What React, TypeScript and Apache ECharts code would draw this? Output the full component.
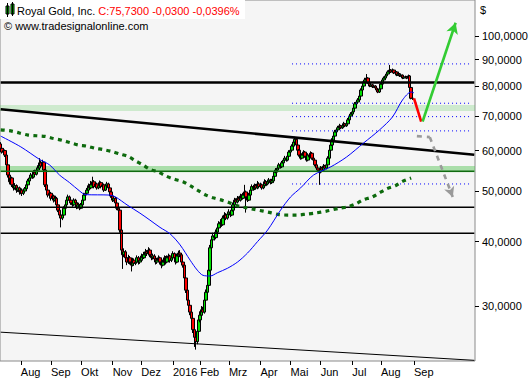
import React, { useEffect, useRef } from 'react';
import * as echarts from 'echarts';

// ---- data ----
const START_DATE = '2015-07-14';
const SLOT_COUNT = 331;
const LAST_LABELLED_SLOT = 300;
const HOLIDAYS = ['2015-09-07', '2015-11-26', '2015-12-25', '2016-01-01', '2016-01-18', '2016-02-15', '2016-03-25', '2016-05-30', '2016-07-04', '2016-09-05', '2016-11-24'];
const MONTH_LABELS = ['', 'Feb', 'Mrz', 'Apr', 'Mai', 'Jun', 'Jul', 'Aug', 'Sep', 'Okt', 'Nov', 'Dez'];

// [open, close, low, high]
const CANDLES: number[][] = [
  [61.8,60.6,60.2,62.3],[60.6,59.6,59.2,61.0],[59.6,60.0,59.0,60.6],[60.0,58.8,58.3,60.3],[58.8,56.3,55.8,59.0],
  [56.3,53.8,53.2,56.6],[53.8,52.2,51.6,54.2],[52.2,53.1,51.9,53.8],[53.1,51.5,51.0,53.4],[51.5,50.8,50.2,52.0],
  [50.8,51.3,50.4,51.9],[51.3,50.3,49.7,51.6],[50.3,50.8,49.9,51.3],[50.8,49.9,49.3,51.1],[49.9,50.3,49.4,50.8],
  [50.3,49.6,49.0,50.7],[49.6,50.1,49.2,50.6],[50.1,50.6,49.8,51.0],[50.6,51.5,50.3,51.9],[51.5,52.4,51.2,52.9],
  [52.4,53.1,52.0,53.6],[53.1,53.8,52.8,54.3],[53.8,53.3,52.9,54.4],[53.3,54.5,53.0,55.0],[54.5,54.0,53.6,55.1],
  [54.0,55.0,53.7,55.6],[55.0,55.5,54.6,56.2],[55.5,56.8,55.2,58.0],[56.8,56.0,55.6,57.4],[56.0,57.0,55.5,57.6],
  [57.0,55.0,54.6,57.2],[55.0,51.5,51.0,55.3],[51.5,50.3,49.8,51.9],[50.3,49.2,48.7,50.6],[49.2,49.6,48.8,50.2],
  [49.6,48.5,48.0,49.9],[48.5,49.0,48.2,49.5],[49.0,48.1,47.6,49.3],[48.1,48.5,47.8,49.0],[48.5,47.1,46.7,48.8],
  [47.1,46.0,45.6,47.4],[46.0,45.0,44.6,46.3],[45.0,44.4,42.6,45.3],[44.4,45.0,44.0,45.5],[45.0,46.4,44.8,46.8],
  [46.4,47.1,46.0,47.6],[47.1,48.1,46.8,48.6],[48.1,48.8,47.8,49.3],[48.8,48.1,47.7,49.1],[48.1,47.5,47.1,48.4],
  [47.5,47.1,46.7,47.8],[47.1,48.1,46.9,48.5],[48.1,47.5,47.1,48.4],[47.5,46.6,46.2,47.8],[46.6,47.1,46.3,47.6],
  [47.1,46.4,46.0,47.3],[46.4,47.1,46.2,47.5],[47.1,48.1,46.9,48.5],[48.1,49.2,47.9,49.7],[49.2,49.6,48.9,50.1],
  [49.6,50.3,49.3,50.8],[50.3,51.3,50.0,51.8],[51.3,50.8,50.4,51.7],[50.8,51.5,50.5,52.4],[51.5,52.2,51.2,53.4],
  [52.2,51.1,50.7,52.6],[51.1,51.7,50.8,52.2],[51.7,50.8,50.4,52.0],[50.8,51.3,50.5,51.8],[51.3,52.0,51.0,52.5],
  [52.0,51.1,50.7,52.3],[51.1,51.5,50.8,52.0],[51.5,50.3,49.9,51.8],[50.3,51.3,50.1,51.7],[51.3,51.7,51.0,52.2],
  [51.7,50.8,50.4,52.0],[50.8,49.9,49.5,51.1],[49.9,49.0,48.6,50.2],[49.0,48.1,47.7,49.3],[48.1,48.5,47.8,49.0],
  [48.5,47.5,47.1,48.8],[47.5,46.4,46.0,47.8],[46.4,46.0,45.5,46.8],[46.0,42.1,41.6,46.3],[42.1,38.5,37.9,42.4],
  [38.5,37.7,35.4,38.9],[37.7,38.2,37.3,38.8],[38.2,37.2,36.7,38.5],[37.2,36.5,36.0,37.6],[36.5,37.2,36.2,37.7],
  [37.2,36.5,36.1,37.5],[36.5,36.0,35.0,36.8],[36.0,36.8,35.8,37.2],[36.8,36.3,35.9,37.1],[36.3,36.5,36.0,37.0],
  [36.5,37.2,36.3,37.6],[37.2,36.5,36.1,37.5],[36.5,36.8,36.2,37.2],[36.8,37.5,36.6,37.9],[37.5,37.2,36.8,37.8],
  [37.2,37.7,37.0,38.2],[37.7,38.2,37.4,38.7],[38.2,37.9,37.5,38.5],[37.9,38.5,37.6,39.0],[38.5,37.7,37.3,38.8],
  [37.7,37.2,36.8,38.0],[37.2,37.5,36.9,37.9],[37.5,37.0,36.6,37.8],[37.0,36.5,36.1,37.3],[36.5,36.8,36.2,37.2],
  [36.8,37.2,36.5,37.6],[37.2,36.5,36.1,37.4],[36.5,36.0,35.5,36.8],[36.0,36.5,35.8,36.9],[36.5,37.2,36.3,37.6],
  [37.2,36.5,36.1,37.5],[36.5,37.2,36.3,37.6],[37.2,37.5,36.9,37.9],[37.5,36.8,36.4,37.7],[36.8,37.2,36.5,37.6],
  [37.2,37.9,37.0,38.3],[37.9,37.2,36.8,38.1],[37.2,36.5,36.1,37.5],[36.5,37.5,36.3,37.9],[37.5,38.0,37.2,38.4],
  [38.0,37.7,37.3,38.5],[37.7,36.5,36.1,37.9],[36.5,36.0,35.6,36.8],[36.0,34.0,33.6,36.2],[34.0,32.2,31.8,34.3],
  [32.2,30.8,30.4,32.5],[30.8,30.1,29.7,31.2],[30.1,29.2,28.8,30.5],[29.2,28.4,28.0,29.6],[28.4,27.0,26.6,28.7],
  [27.0,26.1,25.0,27.4],[26.1,25.6,24.7,26.6],[25.6,26.8,25.3,27.2],[26.8,28.2,26.5,28.6],[28.2,28.8,27.9,29.3],
  [28.8,29.5,28.5,30.0],[29.5,29.2,28.8,29.9],[29.2,30.8,29.0,31.2],[30.8,31.9,30.5,32.3],[31.9,32.9,31.6,33.4],
  [32.9,35.2,32.7,35.6],[35.2,38.9,35.0,39.4],[38.9,40.3,38.6,40.9],[40.3,41.0,39.9,41.6],[41.0,40.7,40.2,41.5],
  [40.7,41.7,40.4,42.2],[41.7,42.5,41.4,43.0],[42.5,43.3,42.2,43.8],[43.3,43.6,42.9,44.2],[43.6,43.1,42.7,44.0],
  [43.1,44.4,42.9,44.9],[44.4,45.0,44.1,45.6],[45.0,44.4,44.0,45.4],[44.4,45.2,44.1,45.7],[45.2,45.6,44.9,46.2],
  [45.6,45.0,44.6,45.9],[45.0,46.0,44.8,46.5],[46.0,47.1,45.7,47.6],[47.1,48.1,46.8,48.6],[48.1,47.7,47.3,48.5],
  [47.7,48.5,47.4,49.0],[48.5,48.1,47.7,48.9],[48.1,49.0,47.8,49.5],[49.0,48.5,48.1,49.4],[48.5,49.2,48.2,49.7],
  [49.2,49.9,48.9,51.5],[49.9,48.8,45.5,50.2],[48.8,48.1,47.7,49.1],[48.1,49.2,47.9,49.7],[49.2,50.3,48.9,50.8],
  [50.3,51.1,50.0,51.6],[51.1,50.6,50.2,51.5],[50.6,51.3,50.3,51.8],[51.3,50.8,50.4,51.7],[50.8,51.7,50.5,52.4],
  [51.7,51.1,50.7,52.1],[51.1,51.5,50.8,52.0],[51.5,50.8,50.4,51.8],[50.8,51.3,50.5,51.7],[51.3,52.2,51.0,52.8],
  [52.2,51.7,51.3,52.6],[51.7,52.2,51.4,52.7],[52.2,52.6,51.9,53.1],[52.6,52.0,51.6,52.9],[52.0,52.4,51.7,52.9],
  [52.4,53.5,52.1,54.0],[53.5,54.5,53.2,55.0],[54.5,55.0,54.2,55.5],[55.0,55.5,54.7,56.0],[55.5,56.3,55.2,56.8],
  [56.3,55.8,55.4,56.7],[55.8,56.8,55.5,57.3],[56.8,57.5,56.5,58.0],[57.5,58.0,57.2,58.6],[58.0,57.5,57.1,58.4],
  [57.5,58.5,57.2,59.0],[58.5,59.6,58.2,60.1],[59.6,60.1,59.3,60.7],[60.1,61.2,59.8,61.7],[61.2,62.3,60.9,62.9],
  [62.3,63.1,61.9,63.8],[63.1,61.5,61.1,63.4],[61.5,60.1,59.7,61.8],[60.1,58.8,58.4,60.4],[58.8,58.0,57.6,59.1],
  [58.0,58.8,57.7,59.3],[58.8,59.6,58.5,60.1],[59.6,58.5,58.1,59.9],[58.5,57.5,57.1,58.8],[57.5,58.8,57.2,59.3],
  [58.8,58.3,57.9,59.2],[58.3,59.3,58.0,59.8],[59.3,58.0,57.6,59.6],[58.0,57.5,57.1,58.3],[57.5,56.3,55.9,57.8],
  [56.3,55.5,55.1,56.6],[55.5,55.0,54.6,55.8],[55.0,54.5,51.5,55.3],[54.5,55.5,54.2,56.0],[55.5,55.0,54.6,55.8],
  [55.0,56.0,54.7,56.5],[56.0,55.5,55.1,56.3],[55.5,56.3,55.2,56.8],[56.3,58.0,56.0,58.5],[58.0,60.1,57.7,60.6],
  [60.1,61.5,59.8,62.0],[61.5,62.9,61.2,63.4],[62.9,64.0,62.6,64.6],[64.0,65.2,63.7,65.8],[65.2,65.8,64.9,66.4],
  [65.8,66.4,65.5,67.0],[66.4,67.0,66.1,67.6],[67.0,66.4,66.0,67.3],[66.4,67.0,66.1,67.6],[67.0,67.6,66.7,68.2],
  [67.6,67.0,66.6,67.9],[67.0,67.6,66.7,68.2],[67.6,68.8,67.3,69.4],[68.8,70.0,68.5,70.6],[70.0,70.6,69.7,71.2],
  [70.6,71.3,70.3,71.9],[71.3,72.5,71.0,73.1],[72.5,73.9,72.2,74.5],[73.9,74.5,73.6,75.1],[74.5,75.2,74.2,75.8],
  [75.2,76.5,74.9,77.1],[76.5,78.6,76.2,79.2],[78.6,80.0,78.3,80.7],[80.0,81.5,79.7,82.2],[81.5,82.2,81.2,83.0],
  [82.2,82.9,81.9,84.4],[82.9,81.1,80.7,83.2],[81.1,80.0,79.6,81.4],[80.0,80.4,79.7,80.9],[80.4,79.7,79.3,80.7],
  [79.7,80.0,79.4,80.5],[80.0,79.3,78.9,80.3],[79.3,78.6,78.2,79.6],[78.6,77.9,77.5,78.9],[77.9,79.0,77.6,79.5],
  [79.0,80.7,78.7,81.3],[80.7,82.2,80.4,82.8],[82.2,82.9,81.9,83.5],[82.9,83.7,82.6,84.3],[83.7,84.4,83.4,85.0],
  [84.4,85.2,84.1,85.8],[85.2,85.9,84.9,87.9],[85.9,85.2,84.8,86.3],[85.2,85.9,84.9,86.5],[85.9,84.8,84.4,86.1],
  [84.8,85.2,84.5,85.8],[85.2,84.0,83.6,85.5],[84.0,84.4,83.7,85.0],[84.4,83.7,83.3,84.8],[83.7,84.0,83.4,84.6],
  [84.0,82.9,82.5,84.2],[82.9,83.3,82.6,83.8],[83.3,83.3,82.9,83.8],[83.3,82.9,82.5,83.7],[82.9,83.7,82.6,84.2],
  [83.7,79.5,79.1,84.0],[79.5,75.76,75.4,79.8],[75.76,75.73,75.2,76.6],
];

// moving averages: [slot index, price]
const MA_FAST: number[][] = [
  [0,64.0],[14,61.0],[27,57.7],[34,56.3],[41,53.8],[48,52.0],[55,50.1],[59,49.3],[76,49.2],[80,48.8],
  [88,47.1],[97,45.4],[104,44.0],[111,42.6],[118,41.4],[125,39.4],[132,36.8],[137,35.2],[141,34.4],[146,34.3],
  [151,34.8],[158,35.5],[165,36.5],[172,38.0],[179,40.0],[186,42.1],[195,46.0],[202,48.8],[209,50.8],[218,53.8],
  [230,55.8],[241,58.3],[253,62.1],[264,65.8],[273,69.7],[280,75.2],[286,77.9],[288,77.6],
];
const MA_SLOW: number[][] = [
  [0,65.8],[7,65.5],[13,64.9],[19,64.3],[25,64.1],[31,63.9],[36,63.4],[43,62.8],[48,62.2],[54,61.5],
  [60,61.2],[66,60.6],[71,60.3],[78,59.7],[83,59.1],[89,58.4],[94,57.3],[99,56.3],[104,55.2],[110,54.5],
  [115,53.6],[121,52.8],[127,52.2],[132,51.3],[137,50.3],[143,49.2],[148,48.6],[154,48.1],[159,47.6],[165,46.9],
  [171,46.5],[176,46.2],[183,45.8],[188,45.5],[194,45.1],[200,45.0],[206,45.0],[213,45.2],[219,45.4],[227,45.8],
  [236,46.4],[242,46.7],[248,47.4],[252,48.1],[259,48.8],[264,49.7],[269,50.6],[275,51.3],[280,52.3],[286,53.1],
];

const Y_TICKS = [30, 40, 50, 60, 70, 80, 90, 100];
const Y_MIN = 23.48;
const Y_MAX = 117.41;

const RESISTANCE = 81.3;
const SUPPORT_1 = 46.6;
const SUPPORT_2 = 41.5;
const BAND_UPPER = [71.6, 73.5];
const BAND_LOWER = [54.5, 56.0];
const BAND_LOWER_LINE = 54.7;
const TREND_UPPER = [[0, 72.1], [330, 58.9]];
const TREND_LOWER = [[0, 26.7], [330, 23.55]];
const FIB_LEVELS = [88.3, 74.1, 69.8, 65.5, 51.7];
const FIB_RANGE = [203, 327];
const RED_PATH = [[288, 75.7], [293, 68.3]];
const GREEN_ARROW = [[293.5, 68.3], [317, 106.1]];
const GREY_PATH = [[290, 64.0], [299, 63.7]];
const GREY_ARROW = [[299, 63.7], [315, 48.8]];

function buildDates(): string[] {
  const out: string[] = [];
  const d = new Date(START_DATE + 'T00:00:00Z');
  while (out.length < SLOT_COUNT) {
    const wd = d.getUTCDay();
    const s = d.toISOString().slice(0, 10);
    if (wd !== 0 && wd !== 6 && HOLIDAYS.indexOf(s) < 0) out.push(s);
    d.setUTCDate(d.getUTCDate() + 1);
  }
  return out;
}

const FONT = 'Liberation Sans';

export default function App() {
  const ref = useRef<HTMLDivElement>(null);
  useEffect(() => {
    if (!ref.current) return;
    const chart = echarts.init(ref.current, undefined, { renderer: 'svg' });
    const dates = buildDates();
    const monthStart = dates.map((s, i) => i > 0 && i < LAST_LABELLED_SLOT && s.slice(5, 7) !== dates[i - 1].slice(5, 7));
    const labelOf = (s: string) => {
      const m = parseInt(s.slice(5, 7), 10);
      return m === 1 ? s.slice(0, 4) : MONTH_LABELS[m - 1];
    };
    const flat = (v: number) => [[0, v], [330, v]];
    const plainLine = (data: number[][], color: string, width: number, extra: any = {}) => ({
      type: 'line', data, symbol: 'none', silent: true, z: 4,
      lineStyle: { color, width, ...extra },
    });
    const option: any = {
      animation: false,
      grid: { left: 0, top: 0, right: 57, bottom: 19, show: true, backgroundColor: '#f5f5f5', borderColor: '#8a8a8a', borderWidth: 1 },
      xAxis: {
        type: 'category', data: dates, boundaryGap: true,
        axisLine: { show: false },
        axisTick: { show: true, alignWithLabel: true, interval: (i: number) => monthStart[i], length: 4, lineStyle: { color: '#000' } },
        axisLabel: {
          interval: (i: number) => monthStart[i], formatter: (v: string) => labelOf(v),
          align: 'left', margin: 5, fontSize: 11, color: '#000', fontFamily: FONT,
        },
        splitLine: { show: false },
      },
      yAxis: [
        {
          type: 'log', logBase: 10, min: Y_MIN, max: Y_MAX, position: 'right',
          axisLine: { show: false }, axisTick: { show: false }, axisLabel: { show: false }, splitLine: { show: false },
        },
        {
          type: 'value', min: Math.log10(Y_MIN), max: Math.log10(Y_MAX), position: 'right',
          axisLine: { show: false }, splitLine: { show: false },
          axisTick: { show: true, customValues: Y_TICKS.map((v) => Math.log10(v)), length: 4, lineStyle: { color: '#000' } },
          axisLabel: {
            customValues: Y_TICKS.map((v) => Math.log10(v)),
            formatter: (v: number) => Math.round(Math.pow(10, v)) + ',0000',
            margin: 7, fontSize: 11, color: '#000', fontFamily: FONT,
          },
        },
      ],
      series: [
        {
          type: 'candlestick', data: CANDLES, barWidth: 3, z: 2,
          itemStyle: { color: '#00e000', color0: '#ff0000', borderColor: '#000', borderColor0: '#000', borderWidth: 1 },
        },
        {
          ...plainLine(flat(BAND_LOWER_LINE), '#106a10', 1.5),
          z: 3,
          markArea: {
            silent: true,
            data: [
              [{ yAxis: BAND_UPPER[0], itemStyle: { color: 'rgba(95,205,95,0.26)' } }, { yAxis: BAND_UPPER[1] }],
              [{ yAxis: BAND_LOWER[0], itemStyle: { color: 'rgba(80,195,80,0.45)' } }, { yAxis: BAND_LOWER[1] }],
            ],
          },
        },
        plainLine(flat(RESISTANCE), '#000', 2.5),
        plainLine(TREND_UPPER, '#000', 2.5),
        plainLine(flat(SUPPORT_1), '#000', 1.3),
        plainLine(flat(SUPPORT_2), '#000', 1.3),
        plainLine(TREND_LOWER, '#000', 1),
        ...FIB_LEVELS.map((v) => plainLine([[FIB_RANGE[0], v], [FIB_RANGE[1], v]], '#0000ff', 1, { type: [1, 3] })),
        { type: 'line', data: MA_SLOW, symbol: 'none', smooth: 0.3, silent: true, z: 5, lineStyle: { color: '#0d6a0d', width: 3.2, type: [4, 4.3] } },
        { type: 'line', data: MA_FAST, symbol: 'none', smooth: 0.3, silent: true, z: 5, lineStyle: { color: '#0000ff', width: 1 } },
        plainLine(RED_PATH, '#ff0000', 2.6),
        plainLine(GREY_PATH, '#9a9a9a', 2.6, { type: [5, 5] }),
        {
          type: 'line', data: [GREEN_ARROW[0]], symbol: 'none', silent: true, z: 6,
          markLine: {
            silent: true, symbol: ['none', 'arrow'], symbolSize: [9, 11], label: { show: false },
            lineStyle: { color: '#33cc33', width: 2.6, type: 'solid' },
            data: [[{ coord: GREEN_ARROW[0] }, { coord: GREEN_ARROW[1] }]],
          },
        },
        {
          type: 'line', data: [GREY_ARROW[0]], symbol: 'none', silent: true, z: 6,
          markLine: {
            silent: true, symbol: ['none', 'arrow'], symbolSize: [8, 10], label: { show: false },
            lineStyle: { color: '#9a9a9a', width: 2.6, type: [5, 5] },
            data: [[{ coord: GREY_ARROW[0] }, { coord: GREY_ARROW[1] }]],
          },
        },
      ],
      graphic: [
        { type: 'rect', left: 0, top: 0, shape: { width: 245, height: 19 }, style: { fill: '#ffffff' }, z: 10 },
        { type: 'rect', shape: { x: 6, y: 6, width: 3, height: 8 }, style: { fill: '#00e000', stroke: '#000', lineWidth: 1 }, z: 11 },
        { type: 'rect', shape: { x: 11, y: 4, width: 3, height: 10 }, style: { fill: '#00e000', stroke: '#000', lineWidth: 1 }, z: 11 },
        { type: 'line', shape: { x1: 7.5, y1: 3, x2: 7.5, y2: 17 }, style: { stroke: '#000', lineWidth: 1 }, z: 11 },
        { type: 'line', shape: { x1: 12.5, y1: 2, x2: 12.5, y2: 16 }, style: { stroke: '#000', lineWidth: 1 }, z: 11 },
        {
          type: 'text', x: 17, y: 11, z: 12,
          style: {
            text: '{a|Royal Gold, Inc. }{b|C:75,7300 -0,0300 -0,0396%}', verticalAlign: 'middle',
            rich: { a: { fill: '#000', fontSize: 11, fontFamily: FONT }, b: { fill: '#ff0000', fontSize: 11, fontFamily: FONT } },
          },
        },
        { type: 'text', x: 4, y: 26, z: 12, style: { text: '© www.tradesignalonline.com', verticalAlign: 'middle', fill: '#000', fontSize: 11, fontFamily: FONT } },
        { type: 'text', x: 480, y: 10, z: 12, style: { text: '$', verticalAlign: 'middle', fill: '#000', fontSize: 11, fontFamily: FONT } },
      ],
    };
    chart.setOption(option);
    return () => chart.dispose();
  }, []);
  return <div ref={ref} style={{ position: 'fixed', left: 0, top: 0, width: 532, height: 380, background: '#fff' }} />;
}
